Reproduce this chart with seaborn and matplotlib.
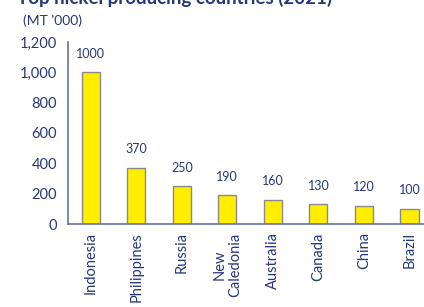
import matplotlib
matplotlib.use("Agg")
import matplotlib.pyplot as plt
import seaborn as sns
import pandas as pd
import numpy as np

countries = ["Indonesia", "Philippines", "Russia", "New\nCaledonia", "Australia", "Canada", "China", "Brazil"]
production = [1000, 370, 250, 190, 160, 130, 120, 100]
yticks = [0, 200, 400, 600, 800, 1000, 1200]
ytick_labels = ["0", "200", "400", "600", "800", "1,000", "1,200"]

sns.set_style("white")
plt.rcParams['font.family'] = ['Lato', 'DejaVu Sans']

axis_col = "#6b6fa8"
text_col = "#26377a"

fig = plt.figure(figsize=(4.24, 3.07), dpi=100)
ax = fig.add_axes([68/424, 1-224/307, 1-68/424, (224-42)/307])

df = pd.DataFrame({"country": countries, "production": production})
sns.barplot(data=df, x="country", y="production", color="#ffee00", edgecolor="#8a8a8a",
            linewidth=1.0, width=0.4, saturation=1, ax=ax)

ax.set_ylim(0, 1200)
ax.set_xlim(-0.5, 7.32)
ax.set_yticks(yticks)
ax.set_yticklabels(ytick_labels, fontsize=10.5, color=text_col)
ax.set_xticks(range(len(countries)))
ax.set_xticklabels(countries, rotation=90, fontsize=10.5, color=text_col, ha="center", va="top",
                   multialignment="center")
ax.set_xticks(np.arange(0.5, len(countries) - 0.5, 1), minor=True)
ax.tick_params(axis="x", which="major", length=0, pad=6)
ax.tick_params(axis="x", which="minor", length=4, width=1, color=axis_col, direction="out")
ax.tick_params(axis="y", length=5, width=1, color=axis_col, direction="out", pad=3)
ax.set_xlabel("")
ax.set_ylabel("")

for s in ["top", "right"]:
    ax.spines[s].set_visible(False)
for s in ["left", "bottom"]:
    ax.spines[s].set_color(axis_col)
    ax.spines[s].set_linewidth(1.2)

for i, v in enumerate(production):
    ax.annotate(str(v), (i, v), xytext=(0, 9), textcoords="offset points",
                ha="center", va="bottom", fontsize=9, color=text_col)

fig.text(17/424, 1-3.5/307, "Top nickel producing countries (2021)", fontsize=13.5, fontweight="bold",
         color=text_col, ha="left", va="baseline")
fig.text(23/424, 1-25/307, "(MT '000)", fontsize=10, color=text_col, ha="left", va="baseline")

fig.savefig("out.png", dpi=100)
